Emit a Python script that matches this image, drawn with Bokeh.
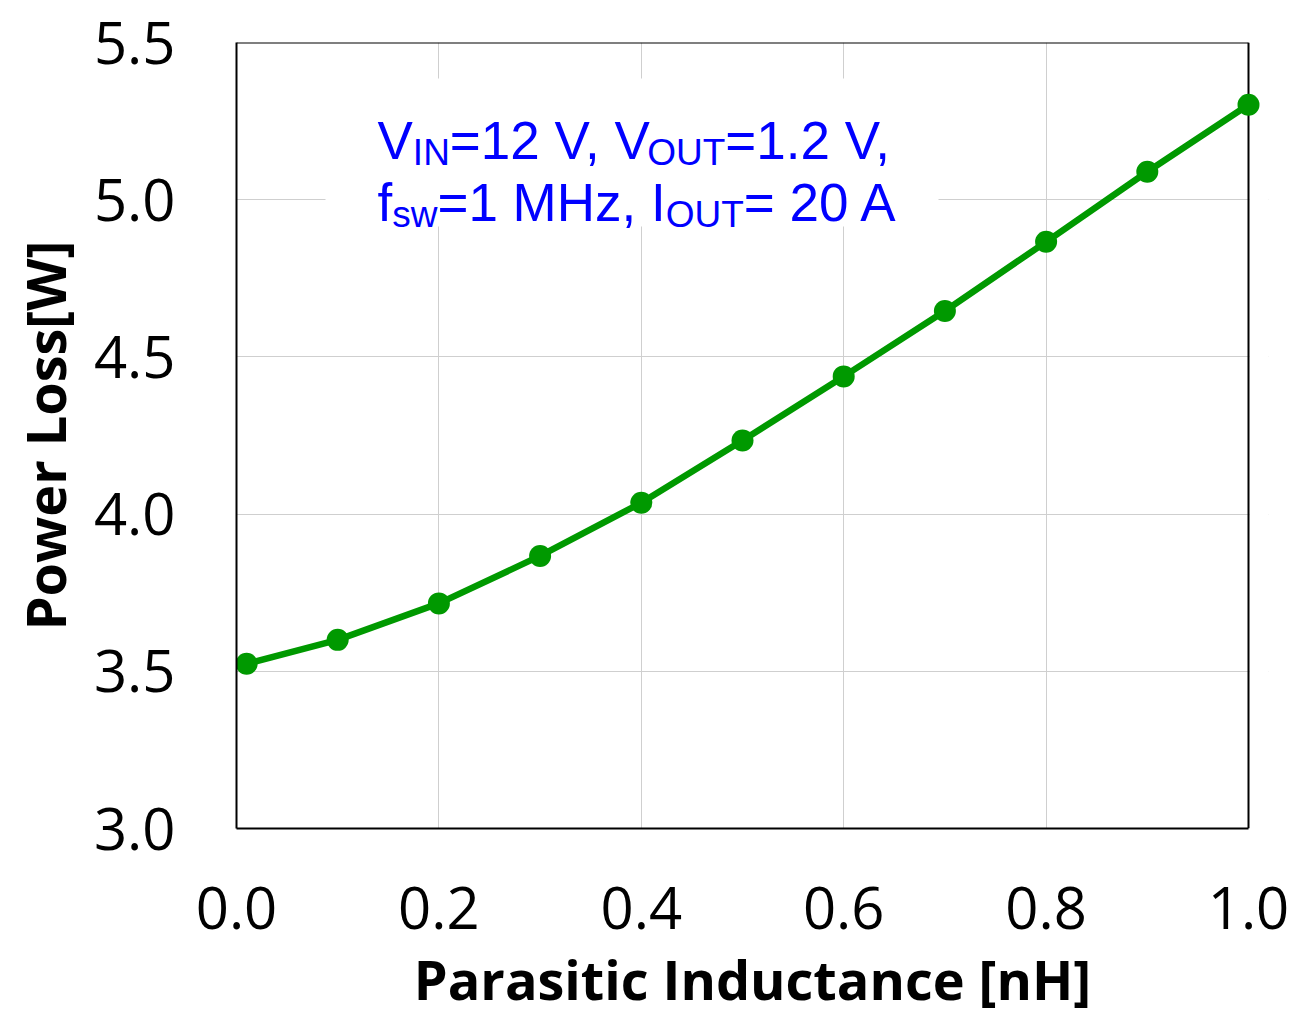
from bokeh.plotting import figure
from bokeh.models import ColumnDataSource, FixedTicker, Range1d, PrintfTickFormatter
from bokeh.core.properties import value
from bokeh.embed import file_html
from bokeh.resources import INLINE

# ---- data ----
inductance_nH = [0.01, 0.1, 0.2, 0.3, 0.4, 0.5, 0.6, 0.7, 0.8, 0.9, 1.0]
power_loss_W = [3.524, 3.600, 3.716, 3.867, 4.036, 4.234, 4.438, 4.646, 4.866, 5.089, 5.302]
x_ticks = [0.0, 0.2, 0.4, 0.6, 0.8, 1.0]
y_ticks = [3.0, 3.5, 4.0, 4.5, 5.0, 5.5]
x_label = "Parasitic Inductance [nH]"
y_label = "Power Loss[W]"
note_line1 = [("V", False), ("IN", True), ("=12 V, V", False), ("OUT", True), ("=1.2 V,", False)]
note_line2 = [("f", False), ("sw", True), ("=1 MHz, I", False), ("OUT", True), ("= 20 A", False)]

# ---- layout constants (page pixels) ----
W, H = 1314, 1019
FL, FR, FT, FB = 236, 1248, 42, 828        # plot frame
EXTRA = 20                                  # room so the last marker is not clipped
XMIN, XMAX, YMIN, YMAX = 0.0, 1.0, 3.0, 5.5
xs = (FR - FL) / (XMAX - XMIN)
ys = (FB - FT) / (YMAX - YMIN)
x_end = XMAX + EXTRA / xs

def dx(px):
    return XMIN + (px - FL) / xs

def dy(py):
    return YMIN + (FB - py) / ys

GREEN = "#009900"
BLUE = "#0000FF"
GRID = "#cfcfcf"

p = figure(width=W, height=H, output_backend="svg", toolbar_location=None,
           x_range=Range1d(XMIN, x_end), y_range=Range1d(YMIN, YMAX),
           min_border_left=FL, min_border_right=W - (FR + EXTRA),
           min_border_top=FT, min_border_bottom=H - FB)
p.outline_line_color = None
p.background_fill_color = "white"
p.border_fill_color = "white"

for ax in (p.xaxis[0], p.yaxis[0]):
    ax.major_tick_line_color = None
    ax.minor_tick_line_color = None
    ax.axis_line_color = "black"
    ax.axis_line_width = 2
    ax.major_label_text_font = "Open Sans"
    ax.major_label_text_font_size = "58px"
    ax.major_label_text_color = "black"
    ax.axis_label_text_font = "Open Sans"
    ax.axis_label_text_font_style = "bold"
    ax.axis_label_text_font_size = "54px"
    ax.axis_label_text_color = "black"
    ax.formatter = PrintfTickFormatter(format="%.1f")
p.xaxis.ticker = FixedTicker(ticks=x_ticks)
p.yaxis.ticker = FixedTicker(ticks=y_ticks)
p.xaxis.bounds = (XMIN, XMAX)
p.xaxis.axis_label = x_label
p.yaxis.axis_label = y_label
p.xaxis.major_label_standoff = 52
p.yaxis.major_label_standoff = 55
p.xaxis.axis_label_standoff = 10
p.yaxis.axis_label_standoff = 9

p.xgrid.ticker = FixedTicker(ticks=x_ticks)
p.ygrid.ticker = FixedTicker(ticks=y_ticks)
p.grid.grid_line_color = GRID
p.grid.grid_line_width = 1

# strip beyond x=1.0 hides grid lines
p.quad(left=[XMAX + 1 / xs], right=[x_end], bottom=[YMIN], top=[YMAX],
       fill_color="white", line_color=None)

# white box behind the note
p.quad(left=[dx(325)], right=[dx(938)], bottom=[dy(226)], top=[dy(78)],
       fill_color="white", line_color=None)

# borders (top & right)
p.segment(x0=[XMIN, XMAX], y0=[YMAX, YMIN], x1=[XMAX, XMAX], y1=[YMAX, YMAX],
          line_color="black", line_width=2)

# data
src = ColumnDataSource(data=dict(x=inductance_nH, y=power_loss_W))
p.line("x", "y", source=src, line_color=GREEN, line_width=6.5)
p.scatter("x", "y", source=src, size=22, fill_color=GREEN, line_color=None)

# note text with subscripts
ADV = {"V": 667, "I": 278, "N": 722, "=": 584, "1": 556, "2": 556, " ": 278, ",": 278,
       "O": 778, "U": 722, "T": 611, ".": 278, "f": 278, "s": 500, "w": 722, "M": 833,
       "H": 722, "z": 500, "A": 667, "0": 556}
KERN = {("V", ","): -140}
MAIN_FS, SUB_FS = 53, 37
SUB_DROP = 12

def width(txt, fs):
    w = sum(ADV.get(c, 556) for c in txt)
    w += sum(KERN.get((a, b), 0) for a, b in zip(txt, txt[1:]))
    return w / 1000 * fs

def layout(pieces, x0, base):
    out = {"x": [], "y": [], "t": [], "fs": []}
    x = x0
    for txt, sub in pieces:
        fs = SUB_FS if sub else MAIN_FS
        out["x"].append(dx(x))
        out["y"].append(dy(base + (SUB_DROP if sub else 0)))
        out["t"].append(txt)
        out["fs"].append(f"{fs}px")
        x += width(txt, fs)
    return out

l1 = layout(note_line1, 377, 140)
l2 = layout(note_line2, 377, 202)
note = {k: l1[k] + l2[k] for k in l1}
p.text(x="x", y="y", text="t", source=ColumnDataSource(note),
       text_font=value("Liberation Sans"), text_font_size="fs",
       text_color=BLUE, text_baseline="alphabetic", text_align="left")

open("out.html", "w").write(file_html(p, INLINE))
